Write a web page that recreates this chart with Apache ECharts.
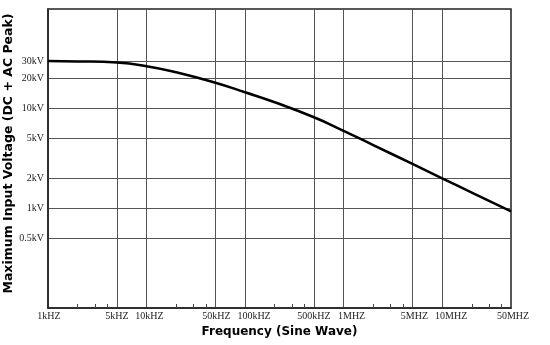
<!DOCTYPE html>
<html>
<head>
<meta charset="utf-8">
<script src="https://cdn.jsdelivr.net/npm/echarts@6/dist/echarts.min.js"></script>
<style>html,body{margin:0;padding:0;background:#fff}#c{width:550px;height:345px}</style>
</head>
<body>
<div id="c"></div>
<script>
// Frequency (Hz) and maximum voltage (kV)
var freqHz = [1000, 2000, 5000, 10000, 20000, 50000, 100000, 200000, 500000, 1000000, 2000000, 5000000, 10000000, 20000000, 50000000];
var voltKV = [30, 29.8, 29, 26.7, 23.2, 18.2, 14.6, 11.6, 8.2, 6.0, 4.31, 2.79, 2.0, 1.44, 0.93];

// Axis grid/label values
var xMajor = [1000, 5000, 10000, 50000, 100000, 500000, 1000000, 5000000, 10000000, 50000000];
var xMajorLabels = ['1kHZ', '5kHZ', '10kHZ', '50kHZ', '100kHZ', '500kHZ', '1MHZ', '5MHZ', '10MHZ', '50MHZ'];
var xMinor = [2000, 3000, 4000, 20000, 30000, 40000, 200000, 300000, 400000, 2000000, 3000000, 4000000, 20000000, 30000000, 40000000];
var yMajor = [0.5, 1, 2, 5, 10, 20, 30];
var yMajorLabels = ['0.5kV', '1kV', '2kV', '5kV', '10kV', '20kV', '30kV'];

var xRange = [1000, 50000000];
var yRange = [0.1, 100];

var data = freqHz.map(function (f, i) { return [f, voltKV[i]]; });

var labelFont = '"Liberation Serif", "DejaVu Serif", serif';
var titleFont = '"DejaVu Sans", Verdana, sans-serif';

// label horizontal nudges (px, right positive) to mimic the original placement
var xLabelNudge = [1, 0, 3, 1, 9, 0, 8, 2, 9, 2];

var rich = {};
xMajorLabels.forEach(function (t, i) {
  var n = xLabelNudge[i];
  rich['s' + i] = {fontFamily: labelFont, fontSize: 10, color: '#222', padding: [0, 0, 0, 2 * n]};
});

var chart = echarts.init(document.getElementById('c'), null, {renderer: 'canvas'});
chart.setOption({
  animation: false,
  backgroundColor: '#ffffff',
  grid: {left: 48, right: 39, top: 9, bottom: 37, outerBoundsMode: 'none', containLabel: false,
         show: true, borderColor: '#222', borderWidth: 1.5, backgroundColor: 'transparent'},
  xAxis: [{
    type: 'log', logBase: 10, min: xRange[0], max: xRange[1],
    name: 'Frequency (Sine Wave)', nameLocation: 'middle', nameGap: 18, nameMoveOverlap: false,
    nameTextStyle: {fontFamily: titleFont, fontWeight: 'bold', fontSize: 12, color: '#000'},
    axisLine: {show: true, lineStyle: {color: '#222', width: 1.5}},
    axisTick: {show: false, customValues: xMajor},
    axisLabel: {
      customValues: xMajor, margin: 3, fontFamily: labelFont, fontSize: 10, color: '#222',
      hideOverlap: false, showMinLabel: true, showMaxLabel: true,
      formatter: function (v) {
        var i = -1;
        for (var k = 0; k < xMajor.length; k++) { if (Math.abs(xMajor[k] - v) / xMajor[k] < 1e-6) { i = k; } }
        return i >= 0 ? '{s' + i + '|' + xMajorLabels[i] + '}' : '';
      },
      rich: rich
    },
    splitLine: {show: true, lineStyle: {color: '#555', width: 1}}
  }, {
    type: 'log', logBase: 10, min: xRange[0], max: xRange[1], position: 'bottom',
    axisLine: {show: false},
    axisTick: {show: true, inside: true, length: 4, customValues: xMinor, lineStyle: {color: '#444', width: 1}},
    axisLabel: {show: false},
    splitLine: {show: false}
  }],
  yAxis: {
    type: 'log', logBase: 10, min: yRange[0], max: yRange[1],
    name: 'Maximum Input Voltage (DC + AC Peak)', nameLocation: 'middle', nameGap: 33, nameRotate: 90, nameMoveOverlap: false,
    nameTextStyle: {fontFamily: titleFont, fontWeight: 'bold', fontSize: 12.5, color: '#000', padding: [0, 0, 0, 10]},
    axisLine: {show: true, lineStyle: {color: '#222', width: 1.5}},
    axisTick: {show: false, customValues: yMajor},
    axisLabel: {
      customValues: yMajor, margin: 4, fontFamily: labelFont, fontSize: 10, color: '#222',
      formatter: function (v) {
        var i = -1;
        for (var k = 0; k < yMajor.length; k++) { if (Math.abs(yMajor[k] - v) / yMajor[k] < 1e-6) { i = k; } }
        return i >= 0 ? yMajorLabels[i] : '';
      }
    },
    splitLine: {show: true, lineStyle: {color: '#555', width: 1}}
  },
  series: [{
    type: 'line', xAxisIndex: 0, data: data, smooth: 0.5, showSymbol: false,
    lineStyle: {color: '#000', width: 2.5}
  }]
});
</script>
</body>
</html>
